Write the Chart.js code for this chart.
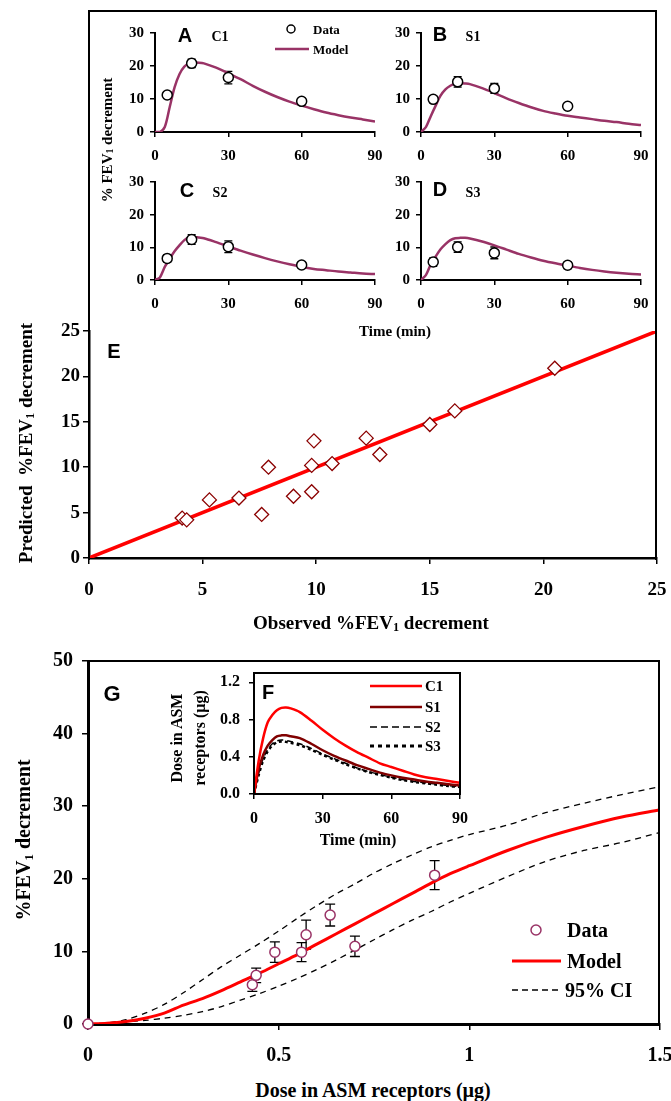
<!DOCTYPE html>
<html>
<head>
<meta charset="utf-8">
<script src="https://cdn.jsdelivr.net/npm/chart.js@4.4.1/dist/chart.umd.min.js"></script>
<style>
  body { margin:0; width:671px; height:1101px; background:#fff; position:relative; overflow:hidden; }
  .wrap { position:absolute; z-index:1; }
  canvas { background:transparent !important; }
  .lbl { position:absolute; z-index:4; font-family:'Liberation Serif','Times New Roman',serif; font-weight:bold; color:#000; white-space:nowrap; transform:translate(-50%,-50%); line-height:1; }
  .rot { transform:translate(-50%,-50%) rotate(-90deg); }
  .lft { transform:translate(0,-50%); }
  .sans { font-family:'Liberation Sans',Arial,sans-serif; }
  sub { font-size:65%; vertical-align:-0.2em; line-height:0; }
  .frm { position:absolute; z-index:3; border-color:#000; border-style:solid; border-width:0; }
  #frame { left:88px; top:10px; width:565px; height:548px; border-width:2px 2px 0 2px; }
  #frameG { left:88px; top:660px; width:570px; height:364px; border-width:2.5px 2.5px 0 0; }
  #frameF { left:253px; top:672px; width:204px; height:119px; border-width:2px; }
</style>
</head>
<body>
<div id="frame" class="frm"></div>
<div id="frameG" class="frm"></div>
<div id="frameF" class="frm"></div>

<!-- top panels A-D -->
<div class="lbl rot" style="left:107px;top:140px;font-size:15px">% FEV<sub>1</sub> decrement</div>
<div class="lbl" style="left:395px;top:331px;font-size:15px">Time (min)</div>
<div class="lbl sans" style="left:185px;top:35px;font-size:20px">A</div>
<div class="lbl" style="left:220px;top:37px;font-size:14px">C1</div>
<div class="lbl sans" style="left:440px;top:34px;font-size:20px">B</div>
<div class="lbl" style="left:473px;top:37px;font-size:14px">S1</div>
<div class="lbl sans" style="left:187px;top:190px;font-size:20px">C</div>
<div class="lbl" style="left:220px;top:193px;font-size:14px">S2</div>
<div class="lbl sans" style="left:440px;top:189px;font-size:20px">D</div>
<div class="lbl" style="left:473px;top:193px;font-size:14px">S3</div>
<div class="lbl lft" style="left:313px;top:29px;font-size:13px">Data</div>
<div class="lbl lft" style="left:313px;top:49px;font-size:13px">Model</div>

<!-- panel E -->
<div class="lbl sans" style="left:114px;top:351px;font-size:20px">E</div>
<div class="lbl rot" style="left:25px;top:443px;font-size:19px">Predicted&nbsp; %FEV<sub>1</sub> decrement</div>
<div class="lbl" style="left:371px;top:622px;font-size:19px">Observed %FEV<sub>1</sub> decrement</div>

<!-- panel G -->
<div class="lbl sans" style="left:112px;top:694px;font-size:22px">G</div>
<div class="lbl rot" style="left:23px;top:840px;font-size:20px">%FEV<sub>1</sub> decrement</div>
<div class="lbl" style="left:373px;top:1090px;font-size:20px">Dose in ASM receptors (µg)</div>
<div class="lbl lft" style="left:567px;top:930px;font-size:20px">Data</div>
<div class="lbl lft" style="left:567px;top:961px;font-size:20px">Model</div>
<div class="lbl lft" style="left:565px;top:990px;font-size:20px">95% CI</div>

<!-- inset F -->
<div class="lbl sans" style="left:268px;top:692px;font-size:20px">F</div>
<div class="lbl rot" style="left:177px;top:738px;font-size:16px">Dose in ASM</div>
<div class="lbl rot" style="left:200px;top:738px;font-size:16px">receptors (µg)</div>
<div class="lbl" style="left:358px;top:840px;font-size:16px">Time (min)</div>
<div class="lbl lft" style="left:425px;top:686px;font-size:15px">C1</div>
<div class="lbl lft" style="left:425px;top:707px;font-size:15px">S1</div>
<div class="lbl lft" style="left:425px;top:727px;font-size:15px">S2</div>
<div class="lbl lft" style="left:425px;top:746px;font-size:15px">S3</div>

<script>
// ---- A-D: %FEV1 decrement vs time ----
const tModel = [0, 2, 4, 6, 8, 10, 12, 14, 16, 18, 20, 25, 30, 35, 40, 45, 50, 55, 60, 65, 70, 75, 80, 85, 90];
const modelC1 = [0, 0, 1.5, 7.5, 13.5, 17.5, 19.8, 20.7, 21, 21, 20.8, 19.5, 17.8, 16.0, 14.0, 12.2, 10.6, 9.2, 8.0, 6.9, 5.9, 5.1, 4.4, 3.8, 3.2];
const modelS1 = [0, 1.5, 4.8, 8.0, 11.0, 12.9, 14.0, 14.7, 14.8, 14.7, 14.5, 13.3, 11.8, 10.2, 8.8, 7.5, 6.4, 5.6, 4.9, 4.4, 3.9, 3.4, 3.0, 2.5, 2.1];
const modelS2 = [0, 0.8, 4.0, 6.5, 8.8, 10.6, 12.2, 13.1, 13.2, 13.0, 12.8, 11.6, 10.3, 9.0, 7.8, 6.7, 5.7, 4.8, 4.0, 3.4, 3.0, 2.6, 2.3, 2.0, 1.8];
const modelS3 = [0, 1.5, 4.8, 7.2, 9.4, 11.0, 12.2, 12.8, 12.9, 12.9, 12.7, 11.8, 10.6, 9.3, 8.0, 6.9, 5.9, 5.1, 4.4, 3.7, 3.1, 2.6, 2.2, 1.9, 1.7];
const tObs = [5, 15, 30, 60];
const obsC1 = [11.2, 20.8, 16.5, 9.3];
const obsS1 = [9.9, 15.2, 13.2, 7.8];
const obsS2 = [6.6, 12.4, 10.2, 4.6];
const obsS3 = [5.5, 10.1, 8.3, 4.5];
const errC1 = [1.0, 1.3, 1.9, 0.8];
const errS1 = [1.0, 1.6, 1.5, 0.7];
const errS2 = [1.1, 1.5, 1.8, 0.9];
const errS3 = [1.3, 1.6, 1.8, 1.0];

// ---- E: observed vs predicted ----
const obsE  = [4.1, 4.3, 5.3, 6.6, 7.6, 7.9, 9.0, 9.8, 9.9, 9.8, 10.7, 12.2, 12.8, 15.0, 16.1, 20.5];
const predE = [4.4, 4.2, 6.4, 6.6, 4.8, 10.0, 6.8, 7.3, 12.9, 10.2, 10.4, 13.2, 11.4, 14.7, 16.2, 20.9];
const identX = [0, 25];
const identY = [0, 25];

// ---- G: dose-response ----
const doseGrid = [0, 0.05, 0.1, 0.15, 0.2, 0.25, 0.3, 0.35, 0.4, 0.45, 0.5, 0.55, 0.6, 0.65, 0.7, 0.75, 0.8, 0.85, 0.9, 0.95, 1.0, 1.1, 1.2, 1.3, 1.4, 1.5];
const modelG = [0, 0.1, 0.35, 0.8, 1.5, 2.6, 3.5, 4.6, 5.8, 7.0, 8.3, 9.6, 11.0, 12.4, 13.8, 15.2, 16.6, 18.0, 19.4, 20.7, 21.8, 23.9, 25.7, 27.2, 28.5, 29.5];
const upperG = [0, 0.15, 0.6, 1.5, 2.7, 4.3, 6.1, 7.9, 9.5, 11.1, 12.8, 14.6, 16.3, 17.9, 19.3, 20.8, 22.1, 23.3, 24.4, 25.3, 26.1, 27.4, 29.1, 30.4, 31.6, 32.7];
const lowerG = [0, 0.05, 0.3, 0.5, 0.8, 1.2, 1.7, 2.4, 3.3, 4.2, 5.2, 6.3, 7.5, 8.8, 10.2, 11.6, 13.0, 14.3, 15.5, 16.8, 18.0, 20.3, 22.4, 23.9, 25.0, 26.4];
const doseObs = [0, 0.431, 0.441, 0.49, 0.56, 0.572, 0.635, 0.70, 0.909];
const fevObs  = [0, 5.4, 6.7, 9.9, 9.9, 12.3, 15.0, 10.7, 20.5];
const fevErr  = [0, 0.9, 1.0, 1.4, 1.3, 2.0, 1.5, 1.4, 2.0];

// ---- F: dose in ASM receptors vs time ----
const tF = [0, 2, 4, 6, 8, 10, 12, 14, 16, 20, 25, 30, 35, 40, 45, 50, 55, 60, 65, 70, 75, 80, 85, 90];
const doseC1 = [0, 0.35, 0.6, 0.77, 0.85, 0.9, 0.925, 0.93, 0.92, 0.88, 0.79, 0.69, 0.60, 0.52, 0.45, 0.39, 0.33, 0.29, 0.25, 0.21, 0.18, 0.16, 0.14, 0.12];
const doseS1 = [0, 0.26, 0.42, 0.52, 0.58, 0.62, 0.63, 0.63, 0.62, 0.60, 0.54, 0.47, 0.41, 0.36, 0.31, 0.27, 0.23, 0.2, 0.175, 0.155, 0.135, 0.12, 0.105, 0.09];
const doseS2 = [0, 0.22, 0.38, 0.48, 0.54, 0.57, 0.58, 0.575, 0.565, 0.54, 0.49, 0.43, 0.38, 0.33, 0.28, 0.24, 0.21, 0.18, 0.155, 0.135, 0.12, 0.105, 0.09, 0.08];
const doseS3 = [0, 0.2, 0.36, 0.46, 0.52, 0.555, 0.565, 0.56, 0.55, 0.525, 0.475, 0.42, 0.37, 0.32, 0.275, 0.235, 0.205, 0.175, 0.15, 0.13, 0.115, 0.1, 0.085, 0.075];
const fTicks = [0, 0.4, 0.8, 1.2];

const serif = "'Liberation Serif','Times New Roman',serif";
const plum = '#993366';

function pts(xs, ys) { return xs.map((x, i) => ({ x: x, y: ys[i] })); }

// error bars and legend keys
const marksPlugin = {
  id: 'marks',
  beforeDatasetsDraw(chart) {
    const ctx = chart.ctx, xs = chart.scales.x, ys = chart.scales.y;
    chart.data.datasets.forEach(ds => {
      if (!ds.errors) return;
      ctx.save();
      ctx.strokeStyle = '#000';
      ctx.lineWidth = 1.3;
      ds.data.forEach((p, i) => {
        const e = ds.errors[i];
        if (!e) return;
        const px = xs.getPixelForValue(p.x);
        const top = ys.getPixelForValue(p.y + e), bot = ys.getPixelForValue(p.y - e);
        const cap = ds.cap || 4;
        ctx.beginPath();
        ctx.moveTo(px, top); ctx.lineTo(px, bot);
        ctx.moveTo(px - cap, top); ctx.lineTo(px + cap, top);
        ctx.moveTo(px - cap, bot); ctx.lineTo(px + cap, bot);
        ctx.stroke();
      });
      ctx.restore();
    });
  },
  afterDraw(chart) {
    const m = chart.canvas.marks || {};
    const ctx = chart.ctx;
    ctx.save();
    (m.keys || []).forEach(k => {
      const x = k.x - m.ox, y = k.y - m.oy;
      ctx.setLineDash(k.dash || []);
      ctx.lineWidth = k.width || 1.5;
      ctx.strokeStyle = k.color;
      ctx.beginPath();
      if (k.type === 'circle') {
        ctx.fillStyle = '#fff';
        ctx.arc(x, y, k.r, 0, Math.PI * 2);
        ctx.fill();
      } else {
        ctx.moveTo(x, y); ctx.lineTo(k.x2 - m.ox, y);
      }
      ctx.stroke();
    });
    ctx.restore();
  }
};

function axis(min, max, step, size, tl, padding, extra) {
  return Object.assign({
    type: 'linear', min: min, max: max,
    ticks: { stepSize: step, color: '#000', font: { family: serif, weight: 'bold', size: size }, padding: padding, maxRotation: 0, autoSkip: false, callback: v => String(v) },
    grid: { drawOnChartArea: false, drawTicks: true, tickLength: tl, color: '#000', lineWidth: 1.5 },
    border: { display: true, color: '#000', width: 2 }
  }, extra || {});
}

function makeChart(box, pad, datasets, xAxis, yAxis, marks) {
  const div = document.createElement('div');
  div.className = 'wrap';
  const w = box.r - box.l + pad.l + pad.r, h = box.b - box.t + pad.t + pad.b;
  div.style.left = (box.l - pad.l) + 'px';
  div.style.top = (box.t - pad.t) + 'px';
  const cv = document.createElement('canvas');
  cv.width = w; cv.height = h;
  div.appendChild(cv);
  document.body.appendChild(div);
  cv.marks = Object.assign({ ox: box.l - pad.l, oy: box.t - pad.t }, marks || {});
  xAxis.afterFit = s => { s.height = pad.b; };
  yAxis.afterFit = s => { s.width = pad.l; };
  return new Chart(cv, {
    type: 'scatter',
    data: { datasets: datasets },
    options: {
      responsive: false, animation: false,
      layout: { padding: { top: pad.t, right: pad.r, left: 0, bottom: 0 } },
      plugins: { legend: { display: false }, tooltip: { enabled: false } },
      scales: { x: xAxis, y: yAxis }
    },
    plugins: [marksPlugin]
  });
}

function timePanel(box, obs, err, model, marks) {
  const ds = [
    { data: pts(tObs, obs), errors: err, cap: 4, pointRadius: 5, pointBackgroundColor: '#fff', pointBorderColor: '#000', pointBorderWidth: 1.5, showLine: false, clip: false },
    { data: pts(tModel, model), showLine: true, pointRadius: 0, borderColor: plum, borderWidth: 2.5, tension: 0.3 }
  ];
  return makeChart(box, { l: 28, t: 18, r: 18, b: 32 }, ds,
    axis(0, 90, 30, 15, 5, 10), axis(0, 30, 10, 15, 5, 6), marks);
}

timePanel({ l: 155, t: 33, r: 375, b: 132 }, obsC1, errC1, modelC1, {
  keys: [
    { type: 'circle', x: 291, y: 29, r: 4, color: '#000', width: 1.5 },
    { type: 'line', x: 275, x2: 309, y: 49, color: plum, width: 2.5 }
  ]
});
timePanel({ l: 421, t: 33, r: 641, b: 132 }, obsS1, errS1, modelS1);
timePanel({ l: 155, t: 182, r: 375, b: 280 }, obsS2, errS2, modelS2);
timePanel({ l: 421, t: 182, r: 641, b: 280 }, obsS3, errS3, modelS3);

// E
makeChart({ l: 89, t: 331, r: 657, b: 558 }, { l: 85, t: 18, r: 28, b: 50 }, [
  { data: pts(obsE, predE), showLine: false, pointStyle: 'rectRot', pointRadius: 7, pointBackgroundColor: '#fff', pointBorderColor: '#8b0000', pointBorderWidth: 1.3 },
  { data: pts(identX, identY), showLine: true, pointRadius: 0, borderColor: '#ff0000', borderWidth: 3.5 }
], axis(0, 25, 5, 19, 6, 15, { border: { display: true, color: '#000', width: 2.5 } }),
   axis(0, 25, 5, 19, 6, 3, { border: { display: true, color: '#000', width: 2.5 } }));

// G
makeChart({ l: 88, t: 661, r: 660, b: 1024 }, { l: 84, t: 24, r: 32, b: 45 }, [
  { data: pts(doseObs, fevObs), errors: fevErr, cap: 5, showLine: false, pointRadius: 5, pointBackgroundColor: '#fff', pointBorderColor: plum, pointBorderWidth: 1.5, clip: false },
  { data: pts(doseGrid, modelG), showLine: true, pointRadius: 0, borderColor: '#ff0000', borderWidth: 3, tension: 0.3 },
  { data: pts(doseGrid, upperG), showLine: true, pointRadius: 0, borderColor: '#000', borderWidth: 1.3, borderDash: [6, 5], tension: 0.3 },
  { data: pts(doseGrid, lowerG), showLine: true, pointRadius: 0, borderColor: '#000', borderWidth: 1.3, borderDash: [6, 5], tension: 0.3 }
], axis(0, 1.5, 0.5, 20, 6, 14, { border: { display: true, color: '#000', width: 3 } }),
   axis(0, 50, 10, 20, 6, 9, { border: { display: true, color: '#000', width: 3 } }),
   {
     keys: [
       { type: 'circle', x: 536, y: 930, r: 5, color: plum, width: 1.5 },
       { type: 'line', x: 512, x2: 561, y: 961, color: '#ff0000', width: 3 },
       { type: 'line', x: 512, x2: 561, y: 990, color: '#000', width: 1.5, dash: [6, 4] }
     ]
   });

// F inset
makeChart({ l: 254, t: 673, r: 460, b: 794 }, { l: 40, t: 22, r: 22, b: 30 }, [
  { data: pts(tF, doseC1), showLine: true, pointRadius: 0, borderColor: '#ff0000', borderWidth: 2.5, tension: 0.3 },
  { data: pts(tF, doseS1), showLine: true, pointRadius: 0, borderColor: '#800000', borderWidth: 2.5, tension: 0.3 },
  { data: pts(tF, doseS2), showLine: true, pointRadius: 0, borderColor: '#000', borderWidth: 1.5, borderDash: [6, 4], tension: 0.3 },
  { data: pts(tF, doseS3), showLine: true, pointRadius: 0, borderColor: '#000', borderWidth: 2.5, borderDash: [3, 3], tension: 0.3 }
], axis(0, 90, 30, 16, 5, 10),
   axis(0, 1.3, 0.4, 16, 5, 9, {
     afterBuildTicks: s => { s.ticks = fTicks.map(v => ({ value: v })); },
     ticks: { color: '#000', font: { family: serif, weight: 'bold', size: 16 }, padding: 9, callback: v => v.toFixed(1) }
   }),
   {
     keys: [
       { type: 'line', x: 370, x2: 422, y: 686, color: '#ff0000', width: 2.5 },
       { type: 'line', x: 370, x2: 422, y: 707, color: '#800000', width: 2.5 },
       { type: 'line', x: 370, x2: 422, y: 727, color: '#000', width: 1.5, dash: [7, 4] },
       { type: 'line', x: 370, x2: 422, y: 746, color: '#000', width: 3, dash: [4, 4] }
     ]
   });
</script>
</body>
</html>
